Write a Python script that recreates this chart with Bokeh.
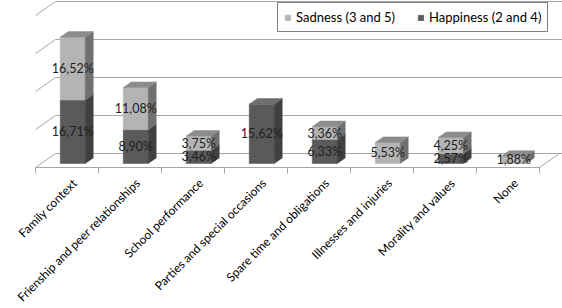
from bokeh.plotting import figure
from bokeh.models import Range1d, Legend, LegendItem
from bokeh.core.properties import value
from bokeh.embed import file_html
from bokeh.resources import INLINE
import math

# ---------------- data ----------------
categories = ["Family context", "Frienship and peer relationships", "School performance",
              "Parties and special occasions", "Spare time and obligations",
              "Illnesses and injuries", "Morality and values", "None"]
happiness = [16.71, 8.90, 3.46, 15.62, 6.33, 0.0, 2.57, 0.0]
sadness = [16.52, 11.08, 3.75, 0.0, 3.36, 5.53, 4.25, 1.88]
grid_values = [0, 10, 20, 30, 40]
series_names = ["Sadness (3 and 5)", "Happiness (2 and 4)"]

# ---------------- style / layout ----------------
W, H = 562, 308
PX_CAT = 63.0      # pixels per category
PX_PCT = 3.8       # pixels per percent
X0_PX, Y0_PX = 35.0, 167.0   # front-left floor corner in pixels
DX = 20.0 / PX_CAT           # depth offset (categories)
DY = 14.0 / PX_PCT           # depth offset (percent)
BAR_POS = 0.286              # bar front plane inside depth
BAR_DEPTH = 0.4              # bar depth fraction
BAR_W = 25.0 / PX_CAT
TICK = 6.0 / PX_PCT
LABEL_DROP = 8.0 / PX_PCT
LABEL_SHIFT = 2.5 / PX_CAT
FONT = "Lato"
GRID_COLOR = "#a6a6a6"

colors = {
    "sad": ("#b4b4b4", "#707070", "#8c8c8c"),
    "hap": ("#5a5a5a", "#404040", "#6e6e6e"),
}

p = figure(width=W, height=H, output_backend="svg", toolbar_location=None,
           x_axis_location=None, y_axis_location=None, min_border=0,
           x_range=Range1d(-X0_PX / PX_CAT, (W - X0_PX) / PX_CAT),
           y_range=Range1d((Y0_PX - H) / PX_PCT, Y0_PX / PX_PCT))
p.grid.visible = False
p.outline_line_color = None
p.background_fill_color = "white"
p.border_fill_color = "white"

n = len(categories)
x_end = p.x_range.end

# back wall gridlines and left wall diagonals
p.segment(x0=[DX] * len(grid_values), y0=[g + DY for g in grid_values],
          x1=[x_end] * len(grid_values), y1=[g + DY for g in grid_values],
          line_color=GRID_COLOR, line_width=1)
p.segment(x0=[0] * len(grid_values), y0=grid_values,
          x1=[DX] * len(grid_values), y1=[g + DY for g in grid_values],
          line_color=GRID_COLOR, line_width=1)
# floor front edge, right edge, ticks
p.segment(x0=[0, n], y0=[0, 0], x1=[n, n + DX], y1=[0, DY], line_color=GRID_COLOR, line_width=1)
p.segment(x0=list(range(n + 1)), y0=[0] * (n + 1), x1=list(range(n + 1)), y1=[-TICK] * (n + 1),
          line_color=GRID_COLOR, line_width=1)


def faces(vals, bases):
    fr_x, fr_y, sd_x, sd_y, tp_x, tp_y = [], [], [], [], [], []
    lx, ly, lt = [], [], []
    bx, by = BAR_DEPTH * DX, BAR_DEPTH * DY
    for i, (v, b) in enumerate(zip(vals, bases)):
        if v <= 0:
            continue
        cx = i + 0.5 + BAR_POS * DX
        x0, x1 = cx - BAR_W / 2, cx + BAR_W / 2
        y0, y1 = BAR_POS * DY + b, BAR_POS * DY + b + v
        fr_x.append([x0, x1, x1, x0]); fr_y.append([y0, y0, y1, y1])
        sd_x.append([x1, x1 + bx, x1 + bx, x1]); sd_y.append([y0, y0 + by, y1 + by, y1])
        tp_x.append([x0, x1, x1 + bx, x0 + bx]); tp_y.append([y1, y1, y1 + by, y1 + by])
        lx.append(cx); ly.append((y0 + y1) / 2)
        lt.append(("%.2f" % v).replace(".", ",") + "%")
    return (fr_x, fr_y), (sd_x, sd_y), (tp_x, tp_y), (lx, ly, lt)


hap_faces = faces(happiness, [0] * n)
sad_faces = faces(sadness, happiness)

renderers = {}
for key, fs in (("hap", hap_faces), ("sad", sad_faces)):
    front, side, top, _ = fs
    c_front, c_side, c_top = colors[key]
    renderers[key] = p.patches(front[0], front[1], fill_color=c_front, line_color=c_front, line_width=0.5)
    p.patches(side[0], side[1], fill_color=c_side, line_color=c_side, line_width=0.5)
    p.patches(top[0], top[1], fill_color=c_top, line_color=c_top, line_width=0.5)

for fs in (hap_faces, sad_faces):
    lx, ly, lt = fs[3]
    p.text(x=lx, y=ly, text=lt, text_align="center", text_baseline="middle",
           text_font=value(FONT), text_font_size="12.5px", text_color="#1e1e1e")

# category labels
p.text(x=[i + 0.5 + LABEL_SHIFT for i in range(n)], y=[-LABEL_DROP] * n, text=categories,
       angle=math.pi / 4, text_align="right", text_baseline="top",
       text_font=value(FONT), text_font_size="12px", text_color="black")

legend = Legend(items=[LegendItem(label=series_names[0], renderers=[renderers["sad"]]),
                       LegendItem(label=series_names[1], renderers=[renderers["hap"]])],
                orientation="horizontal", location=(277, 276),
                border_line_color="black", border_line_width=1,
                background_fill_color="white", background_fill_alpha=1.0,
                padding=6, spacing=22, margin=0, label_standoff=5,
                glyph_width=7, glyph_height=7, label_height=14,
                label_text_font=FONT, label_text_font_size="13px", label_text_color="black")
p.add_layout(legend)

open("out.html", "w").write(file_html(p, INLINE))
